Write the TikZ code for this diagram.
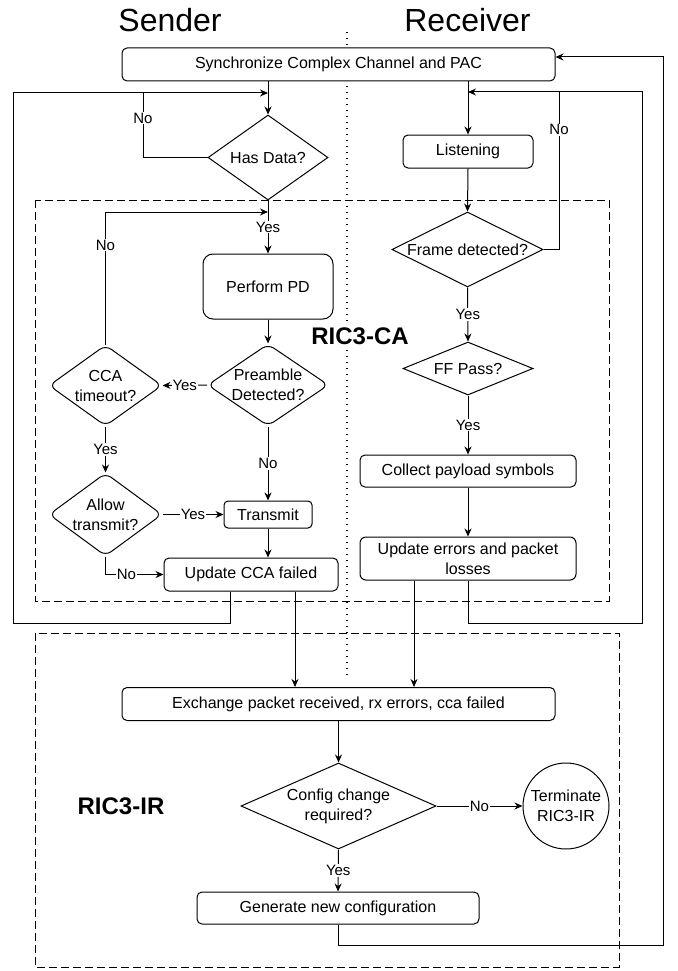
\documentclass[tikz,border=0pt]{standalone}
\usepackage{fontspec}
\setmainfont{Liberation Sans}
\usetikzlibrary{shapes.geometric,arrows.meta,calc}
\begin{document}
\begin{tikzpicture}[x=1pt,y=-1pt,
  every node/.style={font=\fontsize{16}{20}\selectfont},
  box/.style={draw, fill=white, line width=1pt, inner sep=0pt, align=center},
  diam/.style={draw, fill=white, line width=1pt, diamond, inner sep=0pt},
  rdiam/.style={diam, rounded corners=7pt},
  lbl/.style={fill=white, inner sep=1pt, font=\fontsize{15}{18}\selectfont},
  arr/.style={line width=1pt, -{Stealth[length=8pt,width=7pt]}},
  ln/.style={line width=1pt},
  region/.style={draw, line width=1pt, dash pattern=on 8pt off 4pt},
  title/.style={font=\fontsize{32}{36}\selectfont, anchor=base},
  tag/.style={font=\fontsize{24}{28}\selectfont\bfseries},
]
\useasboundingbox (0,0) rectangle (677,971);
\fill[white] (0,0) rectangle (677,971);

% regions and separator
\draw[region] (35,200) rectangle (609,601);
\draw[region] (35,633) rectangle (619,967);
\draw[line width=1.4pt, dash pattern=on 1.4pt off 4.6pt] (347,32) -- (347,675);

% titles
\node[title] (snd) at (170,32) {Sender};
\node[title] (rcv) at (467.5,32) {Receiver};
\node[tag, fill=white, inner sep=1pt] (ca) at (360,336) {RIC3-CA};
\node[tag] (ir) at (121,806) {RIC3-IR};

% nodes
\node[box, minimum width=433pt, minimum height=33pt, rounded corners=5pt] (sync) at (338.5,64.5) {Synchronize Complex Channel and PAC};
\node[diam, minimum width=120pt, minimum height=85pt, label={[align=center]center:{Has Data?}}] (hd) at (268,157.5) {};
\node[box, minimum width=130pt, minimum height=65pt, rounded corners=10pt] (pd) at (268,286.5) {Perform PD};
\node[rdiam, minimum width=121pt, minimum height=82pt, label={[align=center]center:{Preamble\\Detected?}}] (pre) at (268,385) {};
\node[rdiam, minimum width=113pt, minimum height=81pt, label={[align=center]center:{CCA\\timeout?}}] (cca) at (105.5,385.5) {};
\node[rdiam, minimum width=113pt, minimum height=83pt, label={[align=center]center:{Allow\\transmit?}}] (allow) at (105.5,514.5) {};
\node[box, minimum width=88pt, minimum height=27pt, rounded corners=4pt] (tx) at (268,514.5) {Transmit};
\node[box, minimum width=174pt, minimum height=33pt, rounded corners=5pt] (updcca) at (251,574.5) {Update CCA failed};

\node[box, minimum width=130pt, minimum height=33pt, rounded corners=5pt] (listen) at (468,151.5) {Listening};
\node[diam, minimum width=151pt, minimum height=75pt, label={[align=center]center:{Frame detected?}}] (fd) at (467.5,249.5) {};
\node[diam, minimum width=130pt, minimum height=53pt, label={[align=center]center:{FF Pass?}}] (ff) at (468,368.5) {};
\node[box, minimum width=216pt, minimum height=32pt, rounded corners=5pt] (coll) at (468,471) {Collect payload symbols};
\node[box, minimum width=216pt, minimum height=43pt, rounded corners=6pt] (upderr) at (468,558.5) {Update errors and packet\\losses};

\node[box, minimum width=433pt, minimum height=33pt, rounded corners=5pt] (ex) at (338.5,704) {Exchange packet received, rx errors, cca failed};
\node[diam, minimum width=195pt, minimum height=86pt, label={[align=center]center:{Config change\\required?}}] (cfg) at (338.5,806) {};
\node[draw, fill=white, line width=1pt, ellipse, inner sep=0pt, minimum width=86pt, minimum height=86pt, label={[align=center]center:{Terminate\\RIC3-IR}}] (term) at (566,806) {};
\node[box, minimum width=282pt, minimum height=32pt, rounded corners=5pt] (gen) at (338,908) {Generate new configuration};

% junctions
\coordinate (jhd) at (268,93);
\coordinate (jpd) at (268,212);
\coordinate (jls) at (468,92);

% sender edges
\draw[arr] (sync.south -| hd.north) -- (hd.north);
\draw[arr] ([xshift=-21pt]updcca.south) |- (13,623) |- (jhd);
\draw[ln] (hd.west) -- (hd.west -| 143,0) -- node[lbl,pos=0.61]{No} (143,93);
\draw[arr] (hd.south) -- node[lbl]{Yes} (pd.north);
\draw[arr] (cca.north) -- node[lbl,pos=0.75]{No} (cca.north |- jpd) -- (jpd);
\draw[arr] (pd.south) -- (pre.north);
\draw[arr] (pre.west) -- node[lbl]{Yes} (cca.east);
\draw[arr] (cca.south) -- node[lbl]{Yes} (allow.north);
\draw[arr] (pre.south) -- node[lbl]{No} (tx.north);
\draw[arr] (allow.east) -- node[lbl]{Yes} (tx.west);
\draw[arr] (tx.south) -- (tx.south |- updcca.north);
\draw[arr] (allow.south) |- node[lbl,pos=0.68]{No} (updcca.west);
\draw[arr] ([xshift=44pt]updcca.south) -- ([xshift=44pt]updcca.south |- ex.north);

% receiver edges
\draw[arr] (sync.south -| listen.north) -- (listen.north);
\draw[arr] (upderr.south) |- (642,623) |- (jls);
\draw[arr] (listen.south) -- (fd.north);
\draw[ln] (fd.east) -| node[lbl,pos=0.88]{No} (559,92);
\draw[arr] (fd.south) -- node[lbl]{Yes} (ff.north);
\draw[arr] (ff.south) -- node[lbl]{Yes} (coll.north);
\draw[arr] (coll.south) -- (upderr.north);
\draw[arr] ([xshift=-54pt]upderr.south) -- ([xshift=-54pt]upderr.south |- ex.north);

% RIC3-IR edges
\draw[arr] (ex.south) -- (cfg.north);
\draw[arr] (cfg.east) -- node[lbl]{No} (term.west);
\draw[arr] (cfg.south) -- node[lbl]{Yes} (gen.north);
\draw[arr] (gen.south) |- (663,945) |- ([yshift=7.5pt]sync.east);
\end{tikzpicture}
\end{document}
